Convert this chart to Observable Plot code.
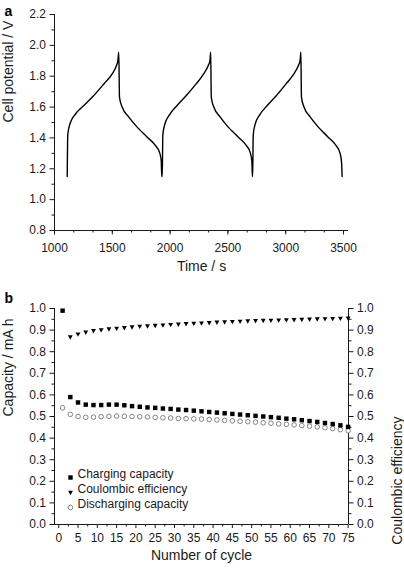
<!DOCTYPE html>
<html><head><meta charset="utf-8">
<script src="https://cdn.jsdelivr.net/npm/d3@7"></script>
<script src="https://cdn.jsdelivr.net/npm/@observablehq/plot@0.6"></script>
<style>
body{margin:0;background:#fff;}
#wrap{width:404px;height:571px;overflow:hidden;}
svg{display:block;}
</style></head>
<body><div id="wrap"></div>
<script>
// ---------- Panel a: cell potential vs time ----------
const timeS = [
  1110,1115,1138,1182,1254,1340,1427,1499,1536,1548,1556,
  1562,1585,1643,1715,1802,1874,1908,1923,1928,
  1932,1937,1955,1995,2060,2140,2225,2290,2330,2344,2351,
  2356,2378,2434,2503,2590,2660,2693,2707,2712,
  2714,2719,2736,2775,2840,2920,3003,3070,3110,3124,3131,
  3136,3158,3213,3282,3367,3436,3468,3482,3488
];
const potentialV = [
  1.15,1.425,1.50,1.555,1.61,1.675,1.75,1.815,1.87,1.90,1.955,
  1.665,1.60,1.535,1.47,1.405,1.35,1.307,1.254,1.15,
  1.15,1.42,1.49,1.55,1.61,1.675,1.75,1.815,1.87,1.90,1.955,
  1.665,1.60,1.535,1.47,1.405,1.35,1.305,1.25,1.15,
  1.15,1.42,1.49,1.55,1.61,1.675,1.75,1.815,1.87,1.90,1.955,
  1.665,1.60,1.535,1.47,1.405,1.35,1.305,1.25,1.15
];
const xTicksA = [1000,1500,2000,2500,3000,3500];
const yTicksA = [0.8,1.0,1.2,1.4,1.6,1.8,2.0,2.2];

// ---------- Panel b: capacity / efficiency vs cycle ----------
const cycles = [1,3,5,7,9,11,13,15,17,19,21,23,25,27,29,31,33,35,37,39,41,43,45,47,49,51,53,55,57,59,61,63,65,67,69,71,73,75];
const chargingCapacity = [0.99,0.59,0.565,0.555,0.553,0.553,0.555,0.555,0.552,0.548,0.545,0.542,0.54,0.537,0.535,0.532,0.53,0.527,0.524,0.521,0.518,0.515,0.512,0.509,0.506,0.503,0.5,0.497,0.494,0.49,0.487,0.483,0.479,0.475,0.47,0.465,0.459,0.452];
const coulombicEfficiency = [null,0.868,0.881,0.89,0.897,0.901,0.905,0.908,0.911,0.914,0.917,0.919,0.921,0.923,0.925,0.927,0.929,0.931,0.932,0.934,0.936,0.937,0.939,0.94,0.942,0.943,0.944,0.945,0.946,0.947,0.948,0.949,0.95,0.951,0.952,0.953,0.954,0.955];
const dischargingCapacity = [0.54,0.51,0.5,0.496,0.497,0.499,0.501,0.502,0.501,0.5,0.499,0.498,0.496,0.494,0.493,0.491,0.49,0.489,0.488,0.486,0.484,0.482,0.48,0.478,0.476,0.474,0.471,0.469,0.466,0.464,0.461,0.458,0.455,0.452,0.448,0.444,0.439,0.434];
const xTicksB = [0,5,10,15,20,25,30,35,40,45,50,55,60,65,70,75];
const yTicksB = [0,0.1,0.2,0.3,0.4,0.5,0.6,0.7,0.8,0.9,1.0];
const legendLabels = ["Charging capacity","Coulombic efficiency","Discharging capacity"];

const FONT = "'Liberation Sans', Arial, Helvetica, sans-serif";
const INK = "#1a1a1a";
const TICKFS = 12;

const potentialData = timeS.map((t,i)=>({t, v: potentialV[i]}));
const cycleData = cycles.map((c,i)=>({c, ch: chargingCapacity[i], ce: coulombicEfficiency[i], dis: dischargingCapacity[i]}));

const triDown = {
  draw(ctx, size){
    const s = Math.sqrt(size)*1.05;
    ctx.moveTo(-s/2, -s*0.36);
    ctx.lineTo(s/2, -s*0.36);
    ctx.lineTo(0, s*0.55);
    ctx.closePath();
  }
};

const xDomA = [1000, 3543];
const yDomA = [0.8, 2.2];
const plotA = Plot.plot({
  width: 404, height: 285,
  marginLeft: 54, marginRight: 56, marginTop: 14, marginBottom: 55,
  style: {fontFamily: FONT, fontSize: "12px", color: INK, background: "#fff"},
  x: {domain: xDomA},
  y: {domain: yDomA},
  marks: [
    Plot.axisX({ticks: xTicksA, tickSize: 4.5, tickPadding: 8, tickFormat: d => String(d), label: null, fontSize: TICKFS}),
    Plot.axisX({ticks: d3.range(1000, 3543, 500/3), tickSize: 2.5, tickFormat: () => "", label: null}),
    Plot.axisY({ticks: yTicksA, tickSize: 4.5, tickPadding: 4, tickFormat: d => d.toFixed(1), label: null, fontSize: TICKFS}),
    Plot.axisY({ticks: d3.range(0.9, 2.2, 0.2), tickSize: 2.5, tickFormat: () => "", label: null}),
    Plot.ruleX([xDomA[0]], {stroke: INK, strokeWidth: 1}),
    Plot.ruleY([yDomA[0]], {stroke: INK, strokeWidth: 1}),
    Plot.line(potentialData, {x: "t", y: "v", stroke: "#000", strokeWidth: 1.4, curve: "monotone-x"}),
    Plot.text(["Time / s"], {frameAnchor: "bottom", dy: 40, fontSize: 14, fill: INK}),
    Plot.text(["Cell potential / V"], {frameAnchor: "left", dx: -46, rotate: -90, fontSize: 14, fill: INK}),
    Plot.text(["a"], {frameAnchor: "top-left", dx: -50, dy: -8, fontSize: 14, fontWeight: "bold", fill: "#000"})
  ]
});

const xDomB = [-1.1, 75.1];
const yDomB = [0, 1];
const plotB = Plot.plot({
  width: 404, height: 286,
  marginLeft: 54, marginRight: 56, marginTop: 23, marginBottom: 47,
  style: {fontFamily: FONT, fontSize: "12px", color: INK, background: "#fff"},
  x: {domain: xDomB},
  y: {domain: yDomB},
  marks: [
    Plot.axisX({ticks: xTicksB, tickSize: 4, tickPadding: 5, tickFormat: d => String(d), label: null, fontSize: TICKFS}),
    Plot.axisX({ticks: d3.range(2.5, 75, 5), tickSize: 2.5, tickFormat: () => "", label: null}),
    Plot.axisY({ticks: yTicksB, tickSize: 4.5, tickPadding: 4, tickFormat: d => d.toFixed(1), label: null, fontSize: TICKFS}),
    Plot.axisY({ticks: d3.range(0.05, 1, 0.1), tickSize: 2.5, tickFormat: () => "", label: null}),
    Plot.axisY({anchor: "right", ticks: yTicksB, tickSize: 4.5, tickPadding: 4, tickFormat: d => d.toFixed(1), label: null, fontSize: TICKFS}),
    Plot.axisY({anchor: "right", ticks: d3.range(0.05, 1, 0.1), tickSize: 2.5, tickFormat: () => "", label: null}),
    Plot.ruleX([xDomB[0]], {stroke: INK, strokeWidth: 1}),
    Plot.ruleX([xDomB[1]], {stroke: INK, strokeWidth: 1}),
    Plot.ruleY([yDomB[0]], {stroke: INK, strokeWidth: 1}),
    Plot.dot(cycleData, {x: "c", y: "dis", symbol: "circle", r: 2.3, stroke: "#777", strokeWidth: 0.9, fill: "#fff"}),
    Plot.dot(cycleData, {x: "c", y: "ch", symbol: "square", r: 2.5, fill: "#000", stroke: "none"}),
    Plot.dot(cycleData.filter(d => d.ce != null), {x: "c", y: "ce", symbol: triDown, r: 2.6, fill: "#000", stroke: "none"}),
    // legend (inside the frame, lower left)
    Plot.dot([legendLabels[0]], {frameAnchor: "bottom-left", dx: 16, dy: -47, symbol: "square", r: 2.5, fill: "#000", stroke: "none"}),
    Plot.dot([legendLabels[1]], {frameAnchor: "bottom-left", dx: 16, dy: -32, symbol: triDown, r: 2.6, fill: "#000", stroke: "none"}),
    Plot.dot([legendLabels[2]], {frameAnchor: "bottom-left", dx: 16, dy: -17, symbol: "circle", r: 2.3, stroke: "#777", strokeWidth: 0.9, fill: "#fff"}),
    Plot.text([legendLabels[0]], {frameAnchor: "bottom-left", dx: 23, dy: -47, textAnchor: "start", fontSize: 12, fill: INK}),
    Plot.text([legendLabels[1]], {frameAnchor: "bottom-left", dx: 23, dy: -32, textAnchor: "start", fontSize: 12, fill: INK}),
    Plot.text([legendLabels[2]], {frameAnchor: "bottom-left", dx: 23, dy: -17, textAnchor: "start", fontSize: 12, fill: INK}),
    Plot.text(["Number of cycle"], {frameAnchor: "bottom", dy: 35, fontSize: 14, fill: INK}),
    Plot.text(["Capacity / mA h"], {frameAnchor: "left", dx: -46, rotate: -90, fontSize: 14, fill: INK}),
    Plot.text(["Coulombic efficiency"], {frameAnchor: "right", dx: 49, rotate: -90, fontSize: 14, fill: INK}),
    Plot.text(["b"], {frameAnchor: "top-left", dx: -50, dy: -15, fontSize: 14, fontWeight: "bold", fill: "#000"})
  ]
});

const wrap = document.getElementById("wrap");
wrap.appendChild(plotA);
wrap.appendChild(plotB);
</script>
</body></html>
